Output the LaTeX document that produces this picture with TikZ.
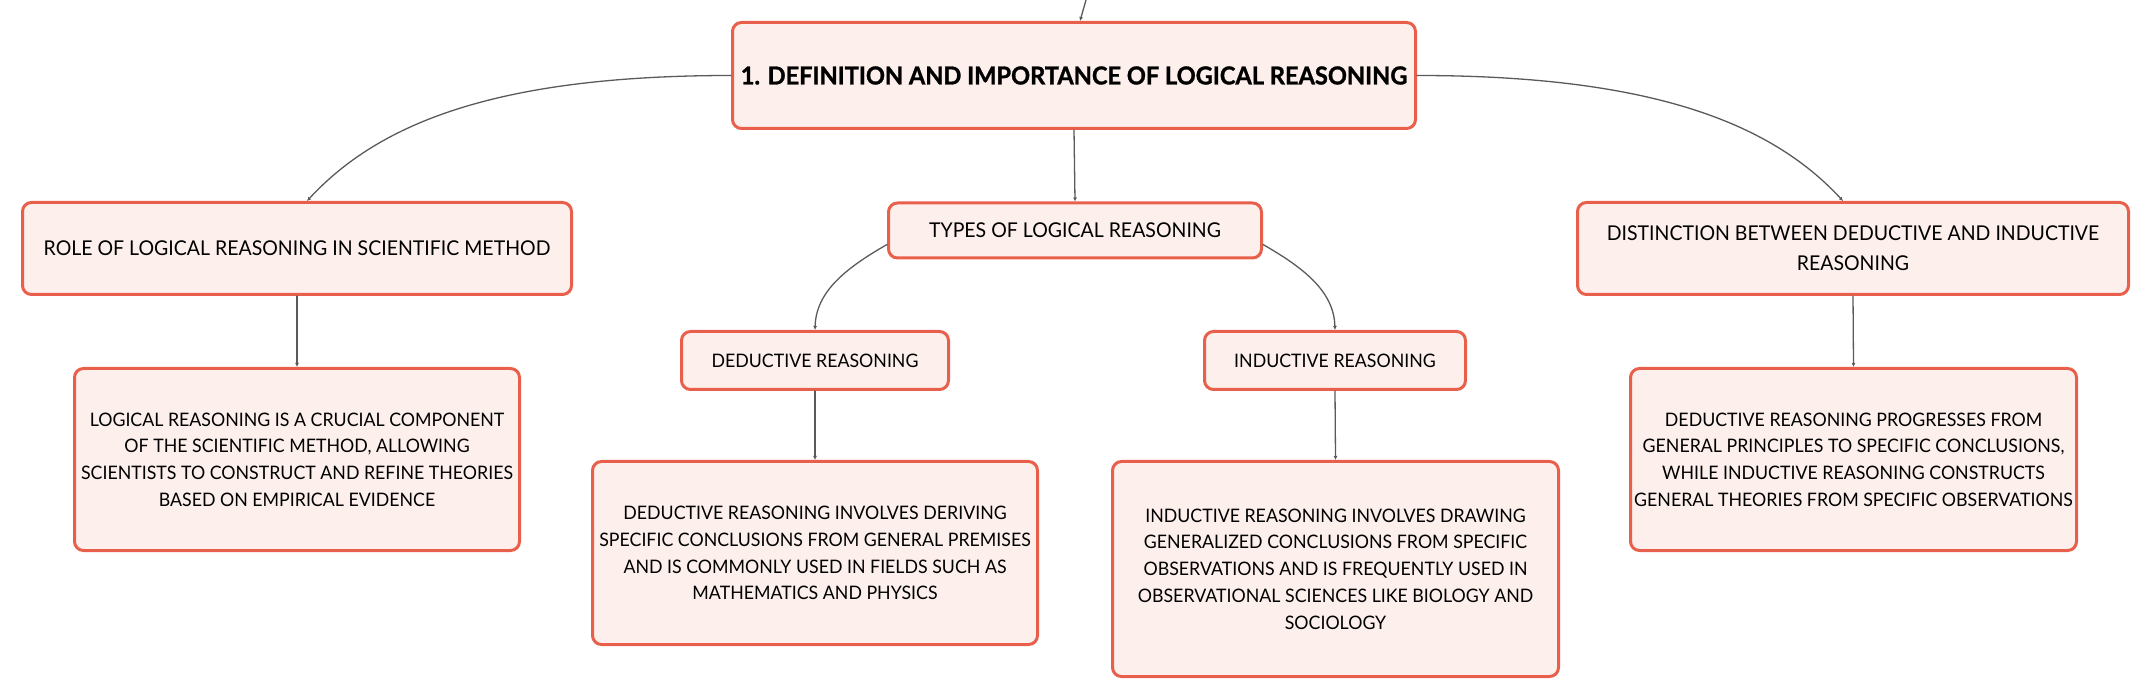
\documentclass[tikz,border=0pt]{standalone}
\usepackage{fontspec}
\setmainfont{Lato}[FakeStretch=0.955, BoldFeatures={FakeBold=1.2}]
\usetikzlibrary{arrows.meta}

\definecolor{boxred}{HTML}{E8604C}
\definecolor{boxfill}{HTML}{FDF0EC}
\definecolor{linkgray}{HTML}{5A5A5A}

\begin{document}
\begin{tikzpicture}[x=0.5pt, y=-0.5pt, line cap=round, line join=round,
    box/.style={draw=boxred, fill=boxfill, line width=1.5pt, rounded corners=4.5pt,
      align=center, inner sep=0pt},
    title/.style={box, font=\bfseries\fontsize{12.35}{15}\selectfont},
    topic/.style={box, font=\fontsize{10.2}{15}\selectfont},
    sub/.style={box, font=\fontsize{9.3}{13.4}\selectfont},
    detail/.style={box, font=\fontsize{9.3}{13.35}\selectfont},
    link/.style={draw=linkgray, line width=0.65pt, -{Latex[length=2pt,width=2pt]}}]

  % Rand van de tekening
  \useasboundingbox (0,0) rectangle (2151,699);

  % Hoofdknoop
  \coordinate (up) at (1086,0);
  \node[title, minimum width=341.5pt, minimum height=53pt] (main) at (1074,75.5)
    {1. DEFINITION AND IMPORTANCE OF LOGICAL REASONING};

  % Onderwerpen
  \node[topic, minimum width=274.5pt, minimum height=46pt] (role) at (297,248.5)
    {ROLE OF LOGICAL REASONING IN SCIENTIFIC METHOD};
  \node[topic, minimum width=186.5pt, minimum height=27.5pt] (types) at (1075,230.5)
    {TYPES OF LOGICAL REASONING};
  \node[topic, minimum width=275.5pt, minimum height=46pt] (dist) at (1853,248.5)
    {DISTINCTION BETWEEN DEDUCTIVE AND INDUCTIVE\\REASONING};

  % Soorten
  \node[sub, minimum width=133.5pt, minimum height=29pt] (ded) at (815,360.5)
    {DEDUCTIVE REASONING};
  \node[sub, minimum width=130.5pt, minimum height=29pt] (ind) at (1335,360.5)
    {INDUCTIVE REASONING};

  % Toelichtingen
  \node[detail, minimum width=222.5pt, minimum height=91pt] (logic) at (297,459.5)
    {LOGICAL REASONING IS A CRUCIAL COMPONENT\\OF THE SCIENTIFIC METHOD, ALLOWING\\
     SCIENTISTS TO CONSTRUCT AND REFINE THEORIES\\BASED ON EMPIRICAL EVIDENCE};
  \node[detail, minimum width=222.5pt, minimum height=91.5pt] (deddesc) at (815,553)
    {DEDUCTIVE REASONING INVOLVES DERIVING\\SPECIFIC CONCLUSIONS FROM GENERAL PREMISES\\
     AND IS COMMONLY USED IN FIELDS SUCH AS\\MATHEMATICS AND PHYSICS};
  \node[detail, minimum width=223pt, minimum height=107.5pt] (inddesc) at (1335.5,569)
    {INDUCTIVE REASONING INVOLVES DRAWING\\GENERALIZED CONCLUSIONS FROM SPECIFIC\\
     OBSERVATIONS AND IS FREQUENTLY USED IN\\OBSERVATIONAL SCIENCES LIKE BIOLOGY AND\\SOCIOLOGY};
  \node[detail, minimum width=223pt, minimum height=91pt] (distdesc) at (1853.5,459.5)
    {DEDUCTIVE REASONING PROGRESSES FROM\\GENERAL PRINCIPLES TO SPECIFIC CONCLUSIONS,\\
     WHILE INDUCTIVE REASONING CONSTRUCTS\\GENERAL THEORIES FROM SPECIFIC OBSERVATIONS};

  % Verbindingen
  \draw[link] (up) -- ([xshift=3pt]main.north);
  \draw[link] (main.west) .. controls +(-232,0) and +(73,-79) .. ([xshift=5pt]role.north);
  \draw[link] (main.east) .. controls +(232,0) and +(-73,-79) .. ([xshift=-5pt]dist.north);
  \draw[link] (main.south) -- (types.north);
  \draw[link] ([yshift=-7pt]types.west) .. controls +(-40,23) and +(1,-39) .. (ded.north);
  \draw[link] ([yshift=-7pt]types.east) .. controls +(40,23) and +(-1,-39) .. (ind.north);
  \draw[link] (role.south) -- (logic.north);
  \draw[link] (ded.south) -- (deddesc.north);
  \draw[link] (ind.south) -- (inddesc.north);
  \draw[link] (dist.south) -- (distdesc.north);
\end{tikzpicture}
\end{document}
